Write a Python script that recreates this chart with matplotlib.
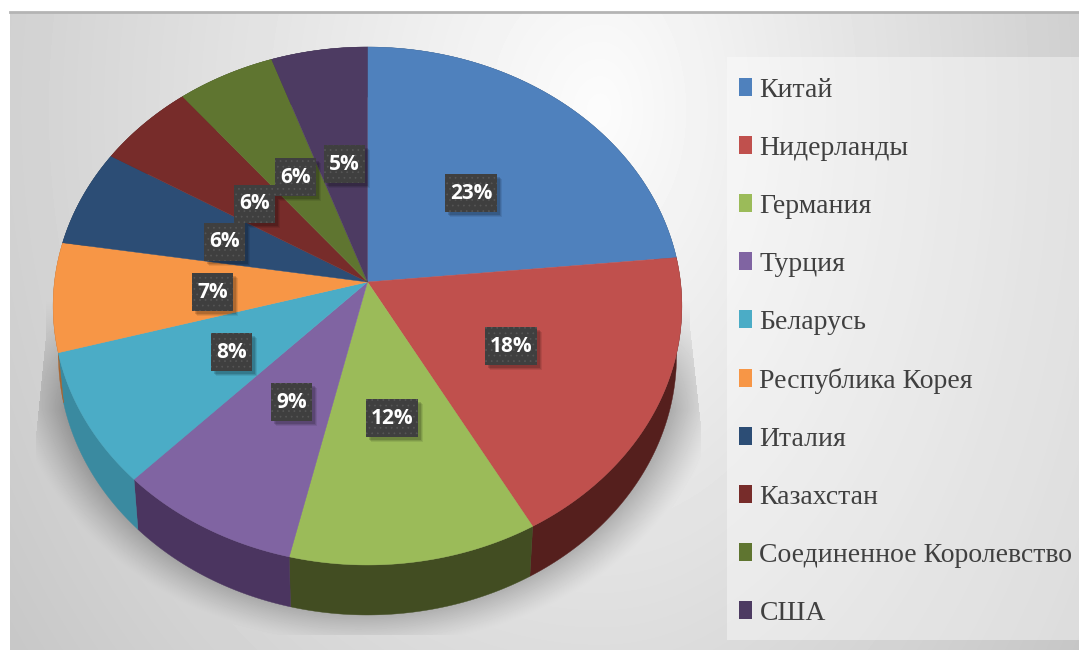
import numpy as np
import matplotlib
matplotlib.use("Agg")
import matplotlib.pyplot as plt
from matplotlib.patches import Rectangle, Patch

countries = ["Китай", "Нидерланды", "Германия", "Турция", "Беларусь",
             "Республика Корея", "Италия", "Казахстан",
             "Соединенное Королевство", "США"]
shares = [23.45, 18.45, 11.7, 8.6, 8.4, 6.8, 6.1, 5.5, 5.5, 5.4]
top_colors = ["#4F81BD", "#C0504D", "#9BBB59", "#8064A2", "#4BACC6",
              "#F79646", "#2C4D75", "#772C2A", "#5F7530", "#4D3B62"]
side_colors = ["#2F4D71", "#551F1D", "#424D22", "#4B3560", "#3A8AA0",
               "#A8642E", "#1D334E", "#4F1D1C", "#3F4E20", "#332741"]

W, H = 1079, 663
cx, cy = 367.5, 282
rx = 313
depth = 50
# slight perspective of the tilted pie
a, c = -230.6, 0.0927
plt.rcParams["hatch.linewidth"] = 0.5


def project(theta, r=1.0):
    u = r * np.sin(theta)
    v = r * np.cos(theta)
    return cx + rx * u / (1 + c * v), (a * v + cy) / (1 + c * v)


# background panel: soft radial gradient plus the shadow under the pie
yy, xx = np.mgrid[0:H, 0:W]
sx = np.where(xx > 600, 560, 720)
dist = np.sqrt(((xx - 600) / sx) ** 2 + ((yy - 110) / 900) ** 2)
bg = 252 - 52 * dist

ell = np.sqrt(((xx - 368) / 350) ** 2 + ((yy - 345) / 292) ** 2)
shade = np.clip((1.03 - ell) / 0.14, 0, 1) ** 1.2
edge_l = 45 - np.clip(yy - 340, 0, 95) * 0.1
edge_r = 690 + np.clip(yy - 330, 0, 100) * 0.11
shade = shade * (xx > edge_l) * (xx < edge_r) * (yy < 635)
shade = shade * np.clip((yy - 300) / 110, 0, 1)
bg = bg - 62 * shade
bg = np.clip(bg / 255, 0, 1)

fig = plt.figure(figsize=(W / 100, H / 100), dpi=100, facecolor="white")
ax = fig.add_axes([0, 0, 1, 1])
ax.imshow(bg[12:650, 10:], cmap="gray", vmin=0, vmax=1,
          extent=(10, W, 650, 12), aspect="auto", zorder=0)
ax.set_xlim(0, W)
ax.set_ylim(H, 0)
ax.axis("off")
ax.plot([10, W], [12, 12], color="#b4b4b4", lw=2, zorder=1)

# legend backing panel
ax.add_patch(Rectangle((727, 57), W - 727, 583, fc="white", ec="none",
                       alpha=0.4, zorder=1))

edges = np.cumsum([0] + shares) / sum(shares) * 2 * np.pi

# walls first, the top faces cover whatever faces away
# lower rim is a bit narrower because of the perspective
for i in range(len(shares)):
    t = np.linspace(edges[i], edges[i + 1], 80)
    x, y = project(t)
    xb = cx + (x - cx) * 0.983
    ax.fill(np.r_[x, xb[::-1]], np.r_[y, y[::-1] + depth],
            color=side_colors[i], lw=0.3, zorder=2)

for i in range(len(shares)):
    t = np.linspace(edges[i], edges[i + 1], 80)
    x, y = project(t)
    ax.fill(np.r_[cx, x], np.r_[cy, y], color=top_colors[i], lw=0.3, zorder=3)

for i in range(len(shares)):
    lx, ly = project((edges[i] + edges[i + 1]) / 2, 0.5)
    lx = lx + 2
    ly = ly + 3
    label = f"{shares[i]:.0f}%"
    bw = 52 if len(label) > 2 else 41
    bh = 38
    # soft shadow from a few offset boxes
    for off, al in [(5, 0.08), (4, 0.1), (3, 0.14)]:
        ax.add_patch(Rectangle((lx - bw / 2 + off, ly - bh / 2 + off), bw, bh,
                               fc="black", ec="none", alpha=al, zorder=4))
    ax.add_patch(Rectangle((lx - bw / 2, ly - bh / 2), bw, bh, fc="#3f3f3f",
                           ec="#565656", lw=0, hatch="...", zorder=5))
    ax.text(lx, ly, label, color="white", fontsize=15, fontweight="bold",
            family="Open Sans", ha="center", va="center", zorder=6)

handles = [Patch(fc=col, ec="none") for col in top_colors]
ax.legend(handles, countries, loc="upper left", bbox_to_anchor=(733, 72),
          bbox_transform=ax.transData, frameon=False, ncol=1,
          prop={"family": "Liberation Serif", "size": 20},
          labelcolor="#404040", handlelength=0.5, handleheight=0.6,
          handletextpad=0.25, labelspacing=1.19, borderpad=0.2, borderaxespad=0)

fig.savefig("out.png", dpi=100)
